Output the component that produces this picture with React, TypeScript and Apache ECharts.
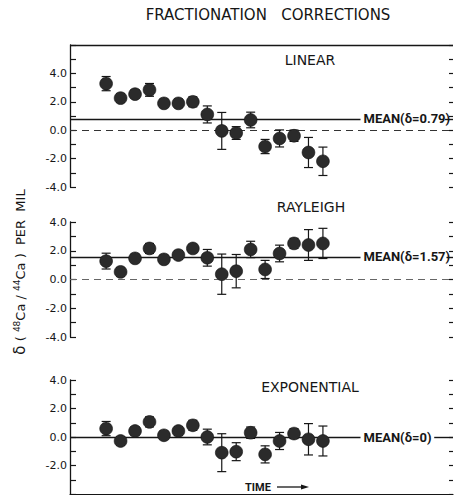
import React, { useEffect, useRef } from "react";
import * as echarts from "echarts";

// ---- data ----
const times = [1, 2, 3, 4, 5, 6, 7, 8, 9, 10, 11, 12, 13, 14, 15, 16];

const linearVals = [3.28, 2.26, 2.54, 2.84, 1.89, 1.89, 2.0, 1.11, -0.05, -0.2, 0.72, -1.15, -0.58, -0.39, -1.57, -2.19];
const linearErr = [0.5, 0.3, 0.3, 0.45, 0.3, 0.3, 0.35, 0.6, 1.3, 0.45, 0.55, 0.5, 0.6, 0.4, 1.06, 1.0];

const rayleighVals = [1.28, 0.53, 1.47, 2.16, 1.4, 1.7, 2.16, 1.51, 0.37, 0.58, 2.09, 0.7, 1.81, 2.51, 2.4, 2.51];
const rayleighErr = [0.55, 0.3, 0.3, 0.35, 0.3, 0.3, 0.3, 0.58, 1.4, 1.16, 0.57, 0.63, 0.58, 0.35, 1.07, 1.05];

const expoVals = [0.59, -0.28, 0.42, 1.06, 0.12, 0.42, 0.82, 0.0, -1.1, -1.03, 0.3, -1.22, -0.28, 0.24, -0.16, -0.28];
const expoErr = [0.5, 0.3, 0.3, 0.35, 0.3, 0.3, 0.35, 0.55, 1.33, 0.63, 0.4, 0.6, 0.6, 0.35, 1.1, 1.05];

const panelNames = ["LINEAR", "RAYLEIGH", "EXPONENTIAL"];
const means = [0.79, 1.57, 0];
const meanLabels = ["MEAN(δ=0.79)", "MEAN(δ=1.57)", "MEAN(δ=0)"];
const yMins = [-4, -4, -4];
const yMaxs = [6, 4, 4];
const yTickLabels = [
  [-4, -2, 0, 2, 4],
  [-4, -2, 0, 2, 4],
  [-2, 0, 2, 4],
];
const showZeroDash = [true, true, false];
const showTopBorder = [true, false, false];

const INK = "#161616";

export default function App() {
  const ref = useRef<HTMLDivElement>(null);

  useEffect(() => {
    document.body.style.margin = "0";
    const chart = echarts.init(ref.current!, null, { renderer: "svg" });

    const grids = [
      { left: 70, right: 3, top: 45, height: 142 },
      { left: 70, right: 3, top: 222, height: 115 },
      { left: 70, right: 3, top: 380, height: 114 },
    ];

    const xMin = -1.5;
    const xMax = 25;
    // x (time units) where the mean line breaks for its label, and resumes
    const breakAt = [18.6, 18.6, 18.6];
    const resumeAt = [24.45, 24.55, 23.7];

    const xAxes = grids.map((_, i) => ({
      gridIndex: i,
      type: "value",
      min: xMin,
      max: xMax,
      position: "bottom",
      show: i === 2,
      axisLine: { show: true, onZero: false, lineStyle: { color: INK, width: 1.2 } },
      axisTick: { show: false },
      axisLabel: { show: false },
      splitLine: { show: false },
    }));

    const yAxes: any[] = [];
    grids.forEach((_, i) => {
      yAxes.push({
        gridIndex: i,
        type: "value",
        min: yMins[i],
        max: yMaxs[i],
        interval: 1,
        position: "left",
        axisLine: { show: true, onZero: false, lineStyle: { color: INK, width: 1.3 } },
        axisTick: { show: true, inside: true, length: 6, lineStyle: { color: INK, width: 1.2 } },
        axisLabel: {
          margin: 3,
          color: INK,
          fontFamily: "DejaVu Sans",
          fontSize: 11,
          formatter: (v: number) => (yTickLabels[i].indexOf(v) >= 0 ? v.toFixed(1) : ""),
        },
        splitLine: { show: false },
      });
      yAxes.push({
        gridIndex: i,
        type: "value",
        min: yMins[i],
        max: yMaxs[i],
        interval: 1,
        position: "right",
        axisLine: { show: false, onZero: false },
        axisTick: { show: true, inside: true, length: 4, lineStyle: { color: INK, width: 1.2 } },
        axisLabel: { show: false },
        splitLine: { show: false },
      });
    });

    const panelData = [
      [linearVals, linearErr],
      [rayleighVals, rayleighErr],
      [expoVals, expoErr],
    ];

    const renderItem = (params: any, api: any) => {
      const x = api.value(0);
      const y = api.value(1);
      const e = api.value(2);
      const p = api.coord([x, y]);
      const top = api.coord([x, y + e]);
      const bot = api.coord([x, y - e]);
      const cap = 4.5;
      const ls = { stroke: INK, lineWidth: 1.2 };
      return {
        type: "group",
        children: [
          { type: "line", shape: { x1: p[0], y1: top[1], x2: p[0], y2: bot[1] }, style: ls },
          { type: "line", shape: { x1: p[0] - cap, y1: top[1], x2: p[0] + cap, y2: top[1] }, style: ls },
          { type: "line", shape: { x1: p[0] - cap, y1: bot[1], x2: p[0] + cap, y2: bot[1] }, style: ls },
          { type: "circle", shape: { cx: p[0], cy: p[1], r: 6.4 }, style: { fill: "#2b2b2b", stroke: "#111", lineWidth: 0.6 } },
        ],
      };
    };

    const series: any[] = [];
    panelData.forEach(([vals, errs], i) => {
      const lines: any[] = [
        [
          {
            coord: [xMin, means[i]],
            label: {
              show: true,
              position: "end",
              distance: 3,
              formatter: meanLabels[i],
              color: INK,
              fontFamily: "Roboto",
              fontWeight: "bold",
              fontSize: 13,
            },
          },
          { coord: [breakAt[i], means[i]] },
        ],
        [{ coord: [resumeAt[i], means[i]] }, { coord: [xMax, means[i]] }],
      ];
      if (showZeroDash[i]) {
        lines.push([
          { coord: [xMin, 0], lineStyle: { type: [7, 5], width: 1, color: i === 0 ? "#333" : "#666" } },
          { coord: [xMax, 0] },
        ]);
      }
      if (showTopBorder[i]) {
        lines.push([
          { coord: [xMin, yMaxs[i]], lineStyle: { width: 1.3, color: INK } },
          { coord: [xMax, yMaxs[i]] },
        ]);
      }
      series.push({
        type: "line",
        xAxisIndex: i,
        yAxisIndex: 2 * i,
        data: [],
        symbol: "none",
        markLine: {
          silent: true,
          symbol: ["none", "none"],
          label: { show: false },
          lineStyle: { color: INK, width: 1.4, type: "solid" },
          emphasis: { disabled: true },
          data: lines,
        },
      });
      series.push({
        type: "custom",
        xAxisIndex: i,
        yAxisIndex: 2 * i,
        renderItem,
        encode: { x: 0, y: 1 },
        data: times.map((t, k) => [t, vals[k], errs[k]]),
        z: 5,
      });
    });

    const textFont = "DejaVu Sans";
    const graphic: any[] = [
      {
        type: "text",
        x: 268,
        y: 15,
        style: {
          text: "FRACTIONATION   CORRECTIONS",
          align: "center",
          verticalAlign: "middle",
          fontFamily: textFont,
          fontSize: 15,
          fill: INK,
        },
      },
      ...panelNames.map((name, i) => ({
        type: "text",
        x: [310, 311, 310][i],
        y: [60, 207, 387][i],
        style: {
          text: name,
          align: "center",
          verticalAlign: "middle",
          fontFamily: textFont,
          fontSize: 14,
          fill: INK,
        },
      })),
      {
        type: "text",
        x: 20,
        y: 272,
        rotation: Math.PI / 2,
        style: {
          text: "{d|δ} ( {s|48}Ca / {s|44}Ca )  PER  MIL",
          align: "center",
          verticalAlign: "middle",
          fontFamily: textFont,
          fontSize: 13,
          fill: INK,
          rich: {
            d: { fontSize: 15, fontFamily: textFont, fill: INK },
            s: { fontSize: 9, fontFamily: textFont, verticalAlign: "top", padding: [0, 0, 6, 0], fill: INK },
          },
        },
      },
      {
        type: "text",
        x: 245,
        y: 487,
        style: {
          text: "TIME",
          align: "left",
          verticalAlign: "middle",
          fontFamily: "Roboto",
          fontWeight: "bold",
          fontSize: 11,
          fill: INK,
        },
      },
      {
        type: "line",
        shape: { x1: 277, y1: 487, x2: 303, y2: 487 },
        style: { stroke: INK, lineWidth: 1.3 },
      },
      {
        type: "polygon",
        shape: { points: [[301, 484.5], [309, 487], [301, 489.5]] },
        style: { fill: INK },
      },
    ];

    chart.setOption({
      animation: false,
      backgroundColor: "#ffffff",
      grid: grids,
      xAxis: xAxes,
      yAxis: yAxes,
      series,
      graphic,
    });

    return () => chart.dispose();
  }, []);

  return <div ref={ref} style={{ width: 456, height: 495 }} />;
}
